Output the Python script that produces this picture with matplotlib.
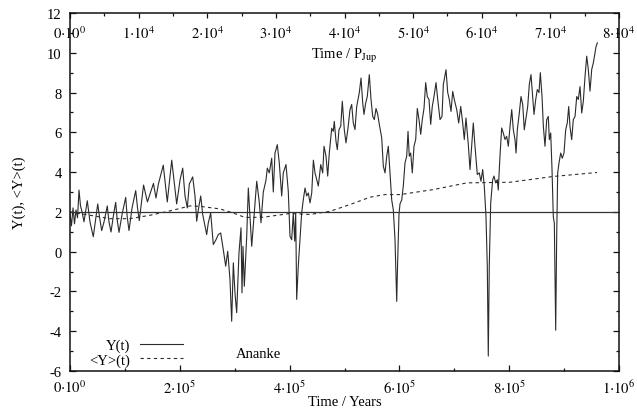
import matplotlib
matplotlib.use('Agg')
import matplotlib.pyplot as plt
import numpy as np

# ---------------- data (time in kyr) ----------------
t_kyr = [0.0, 2.7, 5.5, 8.2, 10.9, 13.7, 16.4, 19.1, 21.9, 25.5, 31.5, 34.6, 36.4, 42.4,
         46.5, 50.5, 54.0, 57.7, 62.0, 67.9, 71.0, 74.7, 79.0, 83.2, 86.0, 89.3, 95.0,
         101.5, 104.0, 107.5, 113.0, 119.7, 123.0, 126.2, 134.0, 141.0, 152.0, 156.6,
         161.0, 169.9, 177.2, 185.3, 194.3, 200.4,
         205.3, 209.5, 213.7, 217.3, 223.5, 227.7, 230.8, 233.7, 238.1, 241.7, 245.9,
         249.0, 251.9, 256.3, 261.0, 265.9, 270.1, 274.5, 279.2, 283.6, 287.3, 291.4,
         294.5, 297.5, 300.5, 303.6, 307.8, 311.5, 313.3, 315.1, 317.5, 321.9, 324.8,
         327.9, 331.0, 335.2, 340.1, 344.3, 347.9, 352.1, 357.0, 359.4, 363.0, 367.4,
         370.3, 373.4, 377.6, 381.2, 385.6, 388.5, 393.4, 397.6, 400.7,
         403.8, 406.7, 409.3, 411.1, 412.9, 415.8, 418.9, 422.0, 424.9, 428.1, 431.1,
         434.1, 437.2, 440.3, 443.3, 446.3, 449.4, 452.3, 456.7, 460.3, 462.7, 466.3,
         469.4, 472.3, 476.7, 479.6, 481.4, 484.5, 486.9, 490.0, 493.1, 496.0, 499.6,
         502.7, 506.4, 510.0, 513.1, 516.0, 519.1, 522.2, 527.0, 530.1, 533.2, 535.5,
         538.6, 541.5, 545.2, 548.3, 551.4, 554.3, 557.4, 560.5, 563.4, 567.8, 570.7,
         573.8, 576.9, 579.8, 582.9, 586.0, 588.9, 592.0, 595.1, 596.9, 599.3, 601.1,
         604.2, 607.1, 610.2, 613.3, 615.7, 618.0, 620.6, 623.5, 626.6, 629.7, 632.6,
         635.7, 638.8, 641.7, 644.8, 647.9, 650.8, 653.9, 657.0, 659.9, 663.0, 666.7,
         669.8, 674.0, 677.6, 680.0, 684.9, 688.0, 690.9, 694.0, 697.1, 700.0, 704.4,
         708.0, 711.7, 715.3, 718.2, 721.3, 725.5, 728.6, 731.7, 734.6, 737.7, 741.9,
         745.5, 748.6, 751.7, 754.6, 757.7, 760.1, 761.9, 763.7, 766.3, 769.9, 772.3,
         775.4, 778.3, 780.1, 783.2, 786.3, 789.2, 792.4, 795.4, 798.4, 801.5,
         804.6, 807.5, 810.6, 812.5, 814.8, 818.4, 821.5, 824.6, 827.5, 830.6, 833.7,
         836.6, 839.7, 842.8, 845.2, 848.3, 851.2, 854.3, 856.7, 859.8, 862.2, 865.2,
         868.3, 871.2, 873.1, 875.6, 878.0, 880.3, 882.2, 884.7, 886.5, 888.3, 890.7,
         893.8, 896.7, 899.8, 902.9, 905.8, 908.4, 910.7, 913.8, 916.8, 919.9, 923.0,
         925.9, 929.0, 932.1, 935.0, 938.1, 941.2, 944.1, 947.2, 950.3, 953.3, 956.3,
         958.1, 960.5]
y_vals = [1.9, 1.3, 2.2, 1.4, 2.1, 1.7, 3.1, 2.3, 2.0, 1.5, 2.56, 1.9, 1.5, 0.75,
          1.6, 2.4, 1.7, 1.06, 1.5, 2.3, 1.5, 0.99, 1.8, 2.48, 1.6, 0.97, 1.9,
          2.73, 1.8, 1.06, 2.2, 3.07, 2.2, 1.56, 3.35, 2.5, 3.43, 2.7,
          3.4, 4.35, 2.5, 4.6, 2.4, 3.6,
          4.2, 2.8, 2.2, 3.4, 3.76, 2.8, 1.53, 2.1, 2.8, 1.87, 1.28,
          0.86, 1.45, 1.95, 0.36, 0.6, 0.86, 0.94, 0.1, -0.73, 0.02, -1.4,
          -3.5, -0.56, -2.07, -3.07, -0.06, 1.2, -2.07, 0.27, -1.74, 0.78, 3.2,
          1.78, 0.27, 1.78, 3.54, 2.6, 1.45, 3.0, 3.6, 4.2, 3.96, 4.7,
          3.0, 4.96, 5.38, 4.46, 2.8, 3.96, 4.38, 3.04, 0.78,
          0.6, 1.95, 0.53, 1.95, -2.4, -0.73, 0.6, 1.95, 2.6, 3.2, 2.8,
          2.95, 2.45, 2.95, 4.6, 3.96, 3.62, 3.3, 4.38, 3.96, 5.3, 4.8,
          3.8, 4.96, 6.2, 6.05, 6.55, 5.55, 5.13, 6.14, 6.3, 7.56, 6.14,
          5.47, 6.22, 7.14, 7.4, 6.47, 6.14, 7.3, 8.0, 8.73, 7.47, 6.9,
          7.47, 7.8, 8.9, 7.65, 6.8, 6.64, 7.2, 6.9, 6.4, 5.72, 4.3,
          3.96, 4.8, 5.3, 3.96, 2.6, 2.1, 0.6, -2.5, -0.4, 1.9, 2.4,
          2.6, 3.3, 4.46, 4.8, 6.05, 4.8, 4.96, 3.96, 5.3, 5.64, 7.2,
          6.64, 5.9, 6.64, 7.2, 8.5, 7.8, 7.65, 6.4, 7.3, 7.8, 8.5,
          7.65, 6.64, 6.8, 8.4, 9.15, 8.0, 7.65, 7.05, 8.06, 7.65, 7.14,
          6.47, 7.3, 6.47, 5.64, 6.72, 5.4, 4.13, 5.3, 6.47, 5.3, 3.88,
          3.96, 3.54, 4.13, 3.3, 1.78, -0.73, -5.25, -0.73, 2.45, 3.62, 3.8,
          3.46, 3.62, 3.1, 4.8, 6.22, 5.97, 5.64, 5.8, 5.3, 6.3,
          7.14, 6.13, 5.63, 4.96, 6.13, 6.97, 7.8, 7.4, 6.13, 6.72, 7.3,
          8.4, 8.9, 7.8, 6.9, 7.65, 8.15, 8.0, 9.0, 7.8, 6.3, 5.3,
          6.64, 6.8, 5.63, 5.97, 4.12, 1.76, 1.43, -3.95, 0.76, 3.95, 4.45,
          4.96, 4.7, 4.96, 6.13, 6.47, 7.3, 6.3, 5.63, 6.64, 6.8, 7.8,
          7.65, 8.3, 6.97, 7.56, 8.8, 9.83, 9.16, 8.07, 9.16, 9.5, 10.0,
          10.3, 10.5]

mean_t_kyr = [0.0, 36.4, 72.9, 109.3, 145.7, 182.2, 218.6, 236.8, 273.2, 296.9, 318.8,
              351.5, 400.7, 437.2, 473.6, 510.0, 546.5, 573.8, 601.1, 661.2, 723.1,
              801.5, 879.8, 959.9]
mean_vals = [2.0, 1.83, 1.66, 1.66, 1.83, 2.05, 2.3, 2.28, 2.15, 1.95, 1.72,
             1.73, 1.92, 1.87, 2.03, 2.37, 2.74, 2.87, 2.87, 3.12, 3.46,
             3.49, 3.78, 3.98]

ref_level = 2.0

x_ticks = [0, 2e5, 4e5, 6e5, 8e5, 1e6]
x_ticklabels = [r'$0{\cdot}10^{0}$', r'$2{\cdot}10^{5}$', r'$4{\cdot}10^{5}$',
                r'$6{\cdot}10^{5}$', r'$8{\cdot}10^{5}$', r'$1{\cdot}10^{6}$']
top_ticks = [0, 1e4, 2e4, 3e4, 4e4, 5e4, 6e4, 7e4, 8e4]
top_ticklabels = [r'$0{\cdot}10^{0}$'] + [r'$%d{\cdot}10^{4}$' % k for k in range(1, 9)]
y_ticks = [12, 10, 8, 6, 4, 2, 0, -2, -4, -6]
y_ticklabels = ['12', '10', '8', '6', '4', '2', '0', '-2', '-4', '-6']

# ---------------- style ----------------
plt.rcParams['font.family'] = ['Liberation Serif', 'DejaVu Serif']
plt.rcParams['mathtext.fontset'] = 'stix'
plt.rcParams['axes.unicode_minus'] = False
FS = 10.5

W, H = 637, 414
fig = plt.figure(figsize=(W / 100, H / 100), dpi=100)
L, R, T, B = 70, 619, 14, 372
ax = fig.add_axes([L / W, (H - B) / H, (R - L) / W, (B - T) / H])

line_col = '#2b2b2b'
ax.plot(np.array(t_kyr) * 1e3, y_vals, color=line_col, lw=0.8, label='Y(t)')
ax.plot(np.array(mean_t_kyr) * 1e3, mean_vals, color=line_col, lw=0.8,
        ls=(0, (3, 3)), label='<Y>(t)')
ax.axhline(ref_level, color='#333333', lw=0.9)

ax.set_xlim(0, 1e6)
ax.set_ylim(-6, 12)
ax.set_xticks(x_ticks)
ax.set_xticklabels(x_ticklabels, fontsize=FS)
ax.set_xticks(np.arange(1e5, 1e6, 2e5), minor=True)
ax.set_yticks(y_ticks)
ax.set_yticklabels(y_ticklabels, fontsize=FS)
ax.set_yticks(np.arange(-5, 12, 2), minor=True)
ax.tick_params(axis='both', which='both', direction='in', top=False, right=True,
               width=0.9, color='#111111')
ax.tick_params(axis='both', which='major', length=4.5)
ax.tick_params(axis='both', which='minor', length=2.5)
ax.tick_params(axis='y', pad=6)
ax.tick_params(axis='x', pad=5.5)
for s in ax.spines.values():
    s.set_linewidth(1.1)
    s.set_color('#111111')

ax.set_xlabel('Time / Years', fontsize=FS)
ax.xaxis.set_label_coords(0.5, -0.066)
ax.set_ylabel('Y(t), <Y>(t)', fontsize=FS)
ax.yaxis.set_label_coords(-0.080, 0.5)

# top axis (time in Jupiter periods)
ax2 = ax.twiny()
ax2.set_xlim(0, 8e4)
ax2.set_xticks(top_ticks)
ax2.set_xticklabels(top_ticklabels, fontsize=FS)
ax2.set_xticks(np.arange(5e3, 8e4, 1e4), minor=True)
ax2.tick_params(axis='x', which='both', direction='in', width=0.9, color='#111111',
                pad=-8.5)
ax2.tick_params(axis='x', which='major', length=3.5)
ax2.tick_params(axis='x', which='minor', length=2.0)
for lbl in ax2.get_xticklabels():
    lbl.set_verticalalignment('top')
for s in ax2.spines.values():
    s.set_visible(False)

ax.text(0.5, 0.882, r'Time / P$_{\mathrm{Jup}}$', transform=ax.transAxes,
        ha='center', va='center', fontsize=FS)

leg = ax.legend(loc='lower left', bbox_to_anchor=(0.035, 0.012), frameon=False,
                markerfirst=False, handlelength=2.9, handletextpad=0.7,
                labelspacing=0.05, borderaxespad=0, borderpad=0, fontsize=FS)

ax.text(0.344, 0.05, 'Ananke', transform=ax.transAxes, ha='center', va='center',
        fontsize=FS)

fig.savefig('out.png', dpi=100)
